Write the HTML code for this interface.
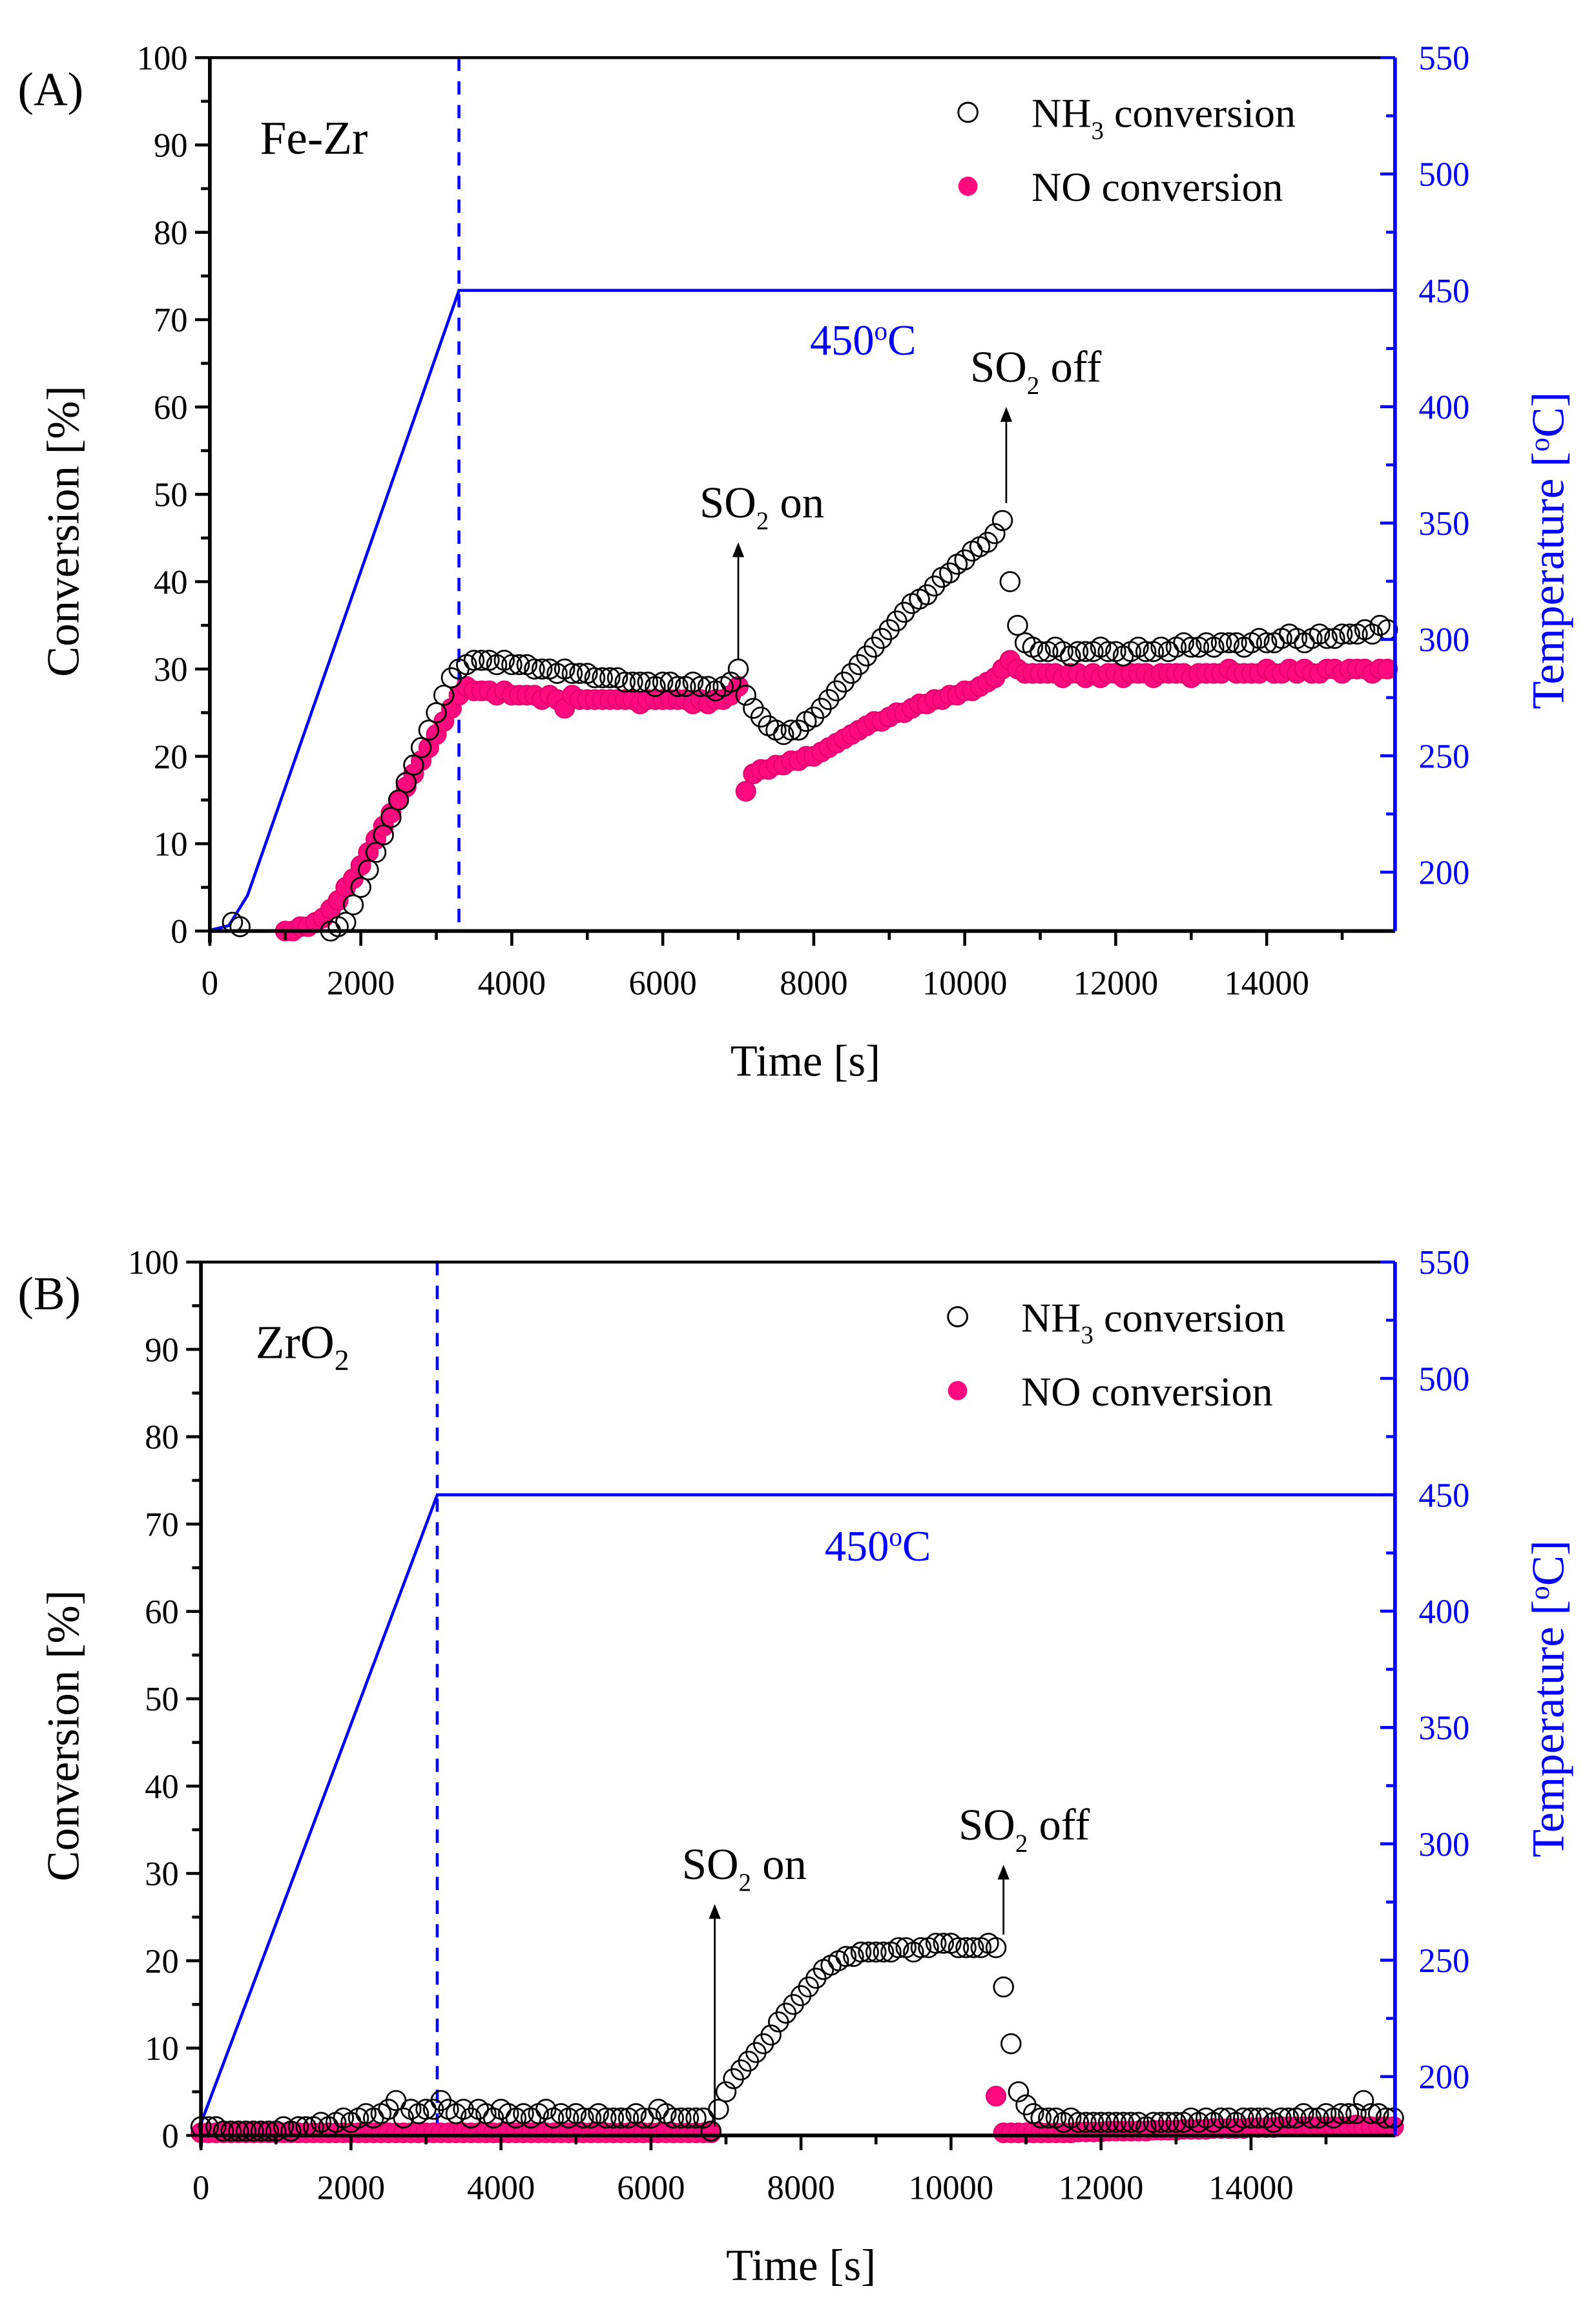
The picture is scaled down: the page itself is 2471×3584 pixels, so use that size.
<!DOCTYPE html>
<html><head><meta charset="utf-8"><style>
html,body{margin:0;padding:0;background:#fff}
svg{display:block}
text{font-family:"Liberation Serif",serif}
</style></head><body>
<svg id="fig" width="2471" height="3584" viewBox="0 0 1080 1566.5" preserveAspectRatio="none" xmlns="http://www.w3.org/2000/svg"></svg>
<script>
// sampling step of the recorded series (s)
const stepA = 100;
const stepB = 100;
// Panel A: NH3 conversion (%) every 100 s from 0 s
const nh3A = [
null,null,null,1,0.5,null,null,null,null,null,
null,null,null,null,null,null,0,0.5,1,3,
5,7,9,11,13,15,17,19,21,23,
25,27,29,30,30.5,31,31,31,30.5,31,
30.5,30.5,30.5,30,30,30,29.5,30,29.5,29.5,
29.5,29,29,29,29,28.5,28.5,28.5,28.5,28,
28.5,28.5,28,28,28.5,28,28,27.5,28,28.5,
30,27,25.5,24.5,23.5,23,22.5,23,23,24,
24.5,25.5,26.5,27.5,28.5,29.5,30.5,31.5,32.5,33.5,
34.5,35.5,36.5,37.5,38,38.5,39.5,40.5,41,42,
42.5,43.5,44,44.5,45.5,47,40,35,33,32.5,
32,32,32.5,32,31.5,32,32,32,32.5,32,
32,31.5,32,32.5,32,32,32.5,32,32.5,33,
32.5,32.5,33,32.5,33,33,33,32.5,33,33.5,
33,33,33.5,34,33.5,33,33.5,34,33.5,33.5,
34,34,34,34.5,34,35,34.5];
// Panel A: NO conversion (%)
const noA = [
null,null,null,null,null,null,null,null,null,null,
0,0,0.5,0.5,1,1.5,2.5,3.5,5,6,
7.5,9,10.5,12,13.5,15,16.5,18,19.5,21,
22.5,24,25.5,27,28,27.5,27.5,27.5,27,27.5,
27,27,27,27,26.5,27,26.5,25.5,27,26.5,
26.5,26.5,26.5,26.5,26.5,26.5,26.5,26,26.5,26.5,
26.5,26.5,26.5,26.5,26,26.5,26,26.5,26.5,27,
28,16,18,18.5,18.5,19,19,19.5,19.5,20,
20,20.5,21,21.5,22,22.5,23,23.5,24,24,
24.5,25,25,25.5,26,26,26.5,26.5,27,27,
27.5,27.5,28,28.5,29,30,31,30,29.5,29.5,
29.5,29.5,29.5,29,29.5,29.5,29,29.5,29,29.5,
29.5,29,29.5,29.5,29.5,29,29.5,29.5,29.5,29.5,
29,29.5,29.5,29.5,29.5,30,29.5,29.5,29.5,29.5,
30,29.5,29.5,30,29.5,30,29.5,29.5,30,30,
29.5,30,30,30,29.5,30,30];
const tempTA = [0,250,500,3300,15700];
const tempVA = [175,177,190,450,450];
// Panel B: NH3 conversion (%)
const nh3B = [
1,1,1,0.5,0.5,0.5,0.5,0.5,0.5,0.5,
0.5,1,0.5,1,1,1,1.5,1,1.5,2,
1.5,2,2.5,2,2.5,3,4,2,3,2.5,
3,3,4,3,2.5,3,2,3,2.5,2,
3,2.5,2,2.5,2,2.5,3,2,2.5,2,
2.5,2,2,2.5,2,2,2,2,2.5,2,
2,3,2.5,2,2,2,2,2,0.5,3,
5,6.5,7.5,8.5,9.5,10.5,11.5,13,14,15,
16,17,18,19,19.5,20,20.5,20.5,21,21,
21,21,21,21.5,21.5,21,21.5,21.5,22,22,
22,21.5,21.5,21.5,21.5,22,21.5,17,10.5,5,
3.5,2.5,2,2,2,1.5,2,1.5,1.5,1.5,
1.5,1.5,1.5,1.5,1.5,1.5,1,1.5,1.5,1.5,
1.5,1.5,2,1.5,2,1.5,2,2,1.5,2,
2,2,2,1.5,2,2,2,2.5,2,2,
2.5,2,2.5,2.5,2.5,4,2.5,2.5,2,2];
// Panel B: NO conversion (%)
const noB = [
0.3,0.3,0.3,0.3,0.3,0.3,0.3,0.3,0.3,0.3,
0.3,0.3,0.3,0.3,0.3,0.3,0.3,0.3,0.3,0.3,
0.3,0.3,0.3,0.3,0.3,0.3,0.3,0.3,0.3,0.3,
0.3,0.3,0.3,0.3,0.3,0.3,0.3,0.3,0.3,0.3,
0.3,0.3,0.3,0.3,0.3,0.3,0.3,0.3,0.3,0.3,
0.3,0.3,0.3,0.3,0.3,0.3,0.3,0.3,0.3,0.3,
0.3,0.3,0.3,0.3,0.3,0.3,0.3,0.3,0.3,null,
null,null,null,null,null,null,null,null,null,null,
null,null,null,null,null,null,null,null,null,null,
null,null,null,null,null,null,null,null,null,null,
null,null,null,null,null,null,4.5,0.3,0.3,0.3,
0.3,0.3,0.3,0.3,0.3,0.3,0.3,0.4,0.4,0.4,
0.4,0.5,0.5,0.5,0.5,0.5,0.5,0.6,0.6,0.6,
0.6,0.7,0.7,0.7,0.7,0.8,0.8,0.8,0.8,0.8,
0.9,0.9,0.9,0.9,1,1,1,1,1,1,
1,1,1,1,1.2,1,1,1,1,1];
const tempTB = [0,3150,15920];
const tempVB = [180,450,450];
const xTicks = [0,2000,4000,6000,8000,10000,12000,14000];
const yTicks = [0,10,20,30,40,50,60,70,80,90,100];
const tTicks = [200,250,300,350,400,450,500,550];

const NS="http://www.w3.org/2000/svg";
const svg=document.getElementById('fig');
function el(tag,attrs,parent){const e=document.createElementNS(NS,tag);for(const k in attrs)e.setAttribute(k,attrs[k]);(parent||svg).appendChild(e);return e;}
function txt(s,x,y,size,fill,anchor,parent){const t=el('text',{x:x,y:y,'font-size':size,fill:fill,'text-anchor':anchor||'middle'},parent);t.innerHTML=s;return t;}

function panel(cfg){
  const g=el('g',{});
  
  
  const L=cfg.L,R=cfg.R,T=cfg.T,B=cfg.B;
  const sx=t=>L+t*(R-L)/cfg.xmax;
  const sy=v=>B-v*(B-T)/100;
  const st=v=>B-(v-cfg.tmin)*(B-T)/(550-cfg.tmin);
  let d='';
  cfg.tt.forEach((t,i)=>{d+=(i?'L':'M')+sx(t).toFixed(1)+' '+st(cfg.tv[i]).toFixed(1);});
  const tl=el('path',{d:d,fill:'none',stroke:'#0000ff','stroke-width':2},g);
  
  
  const xr=sx(cfg.tt[cfg.tt.length-2]);
  const dl=el('line',{x1:xr,x2:xr,y1:T,y2:B,stroke:'#0000ff','stroke-width':2,'stroke-dasharray':'9,7'},g);
  
  
  cfg.no.forEach((v,i)=>{if(v===null)return;
    const c=el('circle',{cx:sx(i*cfg.step),cy:sy(v),r:6.5,fill:'#ff0a7f',stroke:'#e8006e','stroke-width':1},g);
    
    
  });
  cfg.nh3.forEach((v,i)=>{if(v===null)return;
    const c=el('circle',{cx:sx(i*cfg.step),cy:sy(v),r:6.5,fill:'none',stroke:'#000','stroke-width':1.2},g);
    
    
  });
  el('line',{x1:L,x2:R,y1:T,y2:T,stroke:'#000','stroke-width':2},g);
  el('line',{x1:L,x2:R,y1:B,y2:B,stroke:'#000','stroke-width':2.5},g);
  el('line',{x1:L,x2:L,y1:T,y2:B+8,stroke:'#000','stroke-width':2.5},g);
  el('line',{x1:R,x2:R,y1:T,y2:B,stroke:'#0000ff','stroke-width':2.5},g);
  xTicks.forEach(t=>{el('line',{x1:sx(t),x2:sx(t),y1:B,y2:B+10,stroke:'#000','stroke-width':2},g);
    el('line',{x1:sx(t+1000),x2:sx(t+1000),y1:B,y2:B+6,stroke:'#000','stroke-width':2},g);
    const lb=txt(String(t),sx(t),B+43,23,'#000','middle',g);
    
    });
  yTicks.forEach(v=>{el('line',{x1:L-10,x2:L,y1:sy(v),y2:sy(v),stroke:'#000','stroke-width':2},g);
    if(v<100)el('line',{x1:L-6,x2:L,y1:sy(v+5),y2:sy(v+5),stroke:'#000','stroke-width':2},g);
    const lb=txt(String(v),L-15,sy(v)+8,23,'#000','end',g);
    
    });
  tTicks.forEach(v=>{el('line',{x1:R-10,x2:R,y1:st(v),y2:st(v),stroke:'#0000ff','stroke-width':2},g);
    if(v<550)el('line',{x1:R-6,x2:R,y1:st(v+25),y2:st(v+25),stroke:'#0000ff','stroke-width':2},g);
    const lb=txt(String(v),R+16,st(v)+8,23,'#0000ff','start',g);
    
    });
  const xt=txt('Time [s]',(L+R)/2+2,B+98,30,'#000','middle',g);
  
  const yt=txt('Conversion [%]',0,0,31,'#000','middle',g);
  yt.setAttribute('transform','translate(53,'+((T+B)/2+25)+') rotate(-90)');
  
  const rt=txt('Temperature [<tspan dy="-10" font-size="19">o</tspan><tspan dy="10">C]</tspan>',0,0,31,'#0000ff','middle',g);
  rt.setAttribute('transform','translate(1058,'+((T+B)/2+cfg.rtOff)+') rotate(-90)');
  
  const pl=txt(cfg.label,12,T+32,32,'#000','start',g);
  
  const cat=txt(cfg.cat,cfg.catX,T+65,32,'#000','start',g);
  
  const tl2=txt('450<tspan dy="-10" font-size="18">o</tspan><tspan dy="10">C</tspan>',cfg.t450x,cfg.t450y,29,'#0000ff','middle',g);
  
  const lg=el('g',{},g);
  
  el('circle',{cx:cfg.legX,cy:T+37,r:6.5,fill:'none',stroke:'#000','stroke-width':1.3},lg);
  txt('NH<tspan dy="8" font-size="17">3</tspan><tspan dy="-8"> conversion</tspan>',cfg.legX+43,T+47,28,'#000','start',lg);
  el('circle',{cx:cfg.legX,cy:T+87,r:6.5,fill:'#ff0a7f'},lg);
  txt('NO conversion',cfg.legX+43,T+97,28,'#000','start',lg);
  cfg.arrows.forEach(a=>{
    const ag=el('g',{},g);
    
    const x=sx(a.t);
    el('line',{x1:x,x2:x,y1:sy(a.from),y2:sy(a.to)+8,stroke:'#000','stroke-width':1.2},ag);
    el('path',{d:`M${x-4} ${sy(a.to)+10}L${x} ${sy(a.to)}L${x+4} ${sy(a.to)+10}Z`,fill:'#000'},ag);
    txt('SO<tspan dy="8" font-size="17">2</tspan><tspan dy="-8"> '+a.text+'</tspan>',x+a.dx,sy(a.to)-17,30,'#000','middle',ag);
  });
}
panel({name:'panel-a-fe-zr',L:142,R:944,T:39,B:630,xmax:15700,tmin:174.7,step:stepA,nh3:nh3A,no:noA,tt:tempTA,tv:tempVA,rtOff:38,
  label:'(A)',cat:'Fe-Zr',catX:176,t450x:584,t450y:240,legX:655,
  arrows:[{name:'so2-on-arrow',t:7000,from:31,to:44.5,text:'on',dx:16},{name:'so2-off-arrow',t:10550,from:49,to:60,text:'off',dx:20}]});
panel({name:'panel-b-zro2',L:136,R:944,T:854,B:1445,xmax:15920,tmin:174.7,step:stepB,nh3:nh3B,no:noB,tt:tempTB,tv:tempVB,rtOff:0,
  label:'(B)',cat:'ZrO<tspan dy="8" font-size="20">2</tspan>',catX:173,t450x:594,t450y:1056,legX:648,
  arrows:[{name:'so2-on-arrow',t:6850,from:1,to:26.5,text:'on',dx:20},{name:'so2-off-arrow',t:10700,from:23,to:31,text:'off',dx:14}]});
</script>
</body></html>
